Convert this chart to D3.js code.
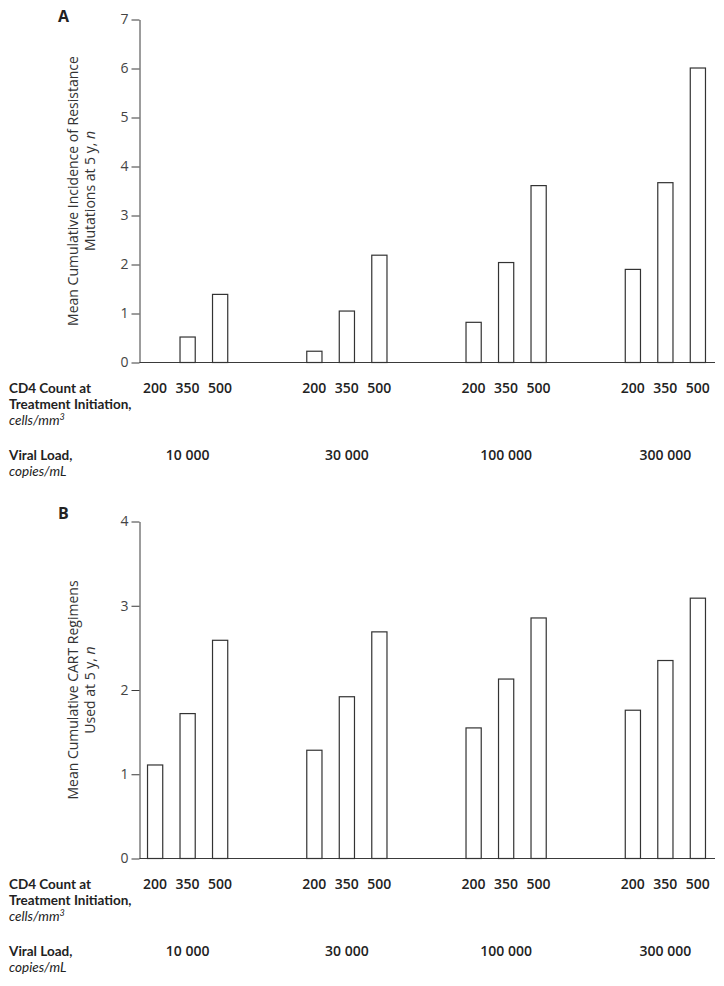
<!DOCTYPE html>
<html>
<head>
<meta charset="utf-8">
<script src="https://cdn.jsdelivr.net/npm/d3@7"></script>
<style>
  html, body { margin: 0; padding: 0; background: #fff; }
  svg { display: block; font-family: "Open Sans", "Noto Sans", sans-serif; }
</style>
</head>
<body>
<svg id="chart" width="724" height="986"></svg>
<script>
// ---- Data ----
const viralLoads = ["10 000", "30 000", "100 000", "300 000"];
const cd4Counts = ["200", "350", "500"];
// Panel A: mean cumulative incidence of resistance mutations at 5 y
const resistance10k  = [0, 0.52, 1.39];
const resistance30k  = [0.23, 1.05, 2.19];
const resistance100k = [0.82, 2.04, 3.61];
const resistance300k = [1.90, 3.67, 6.01];
// Panel B: mean cumulative cART regimens used at 5 y
const regimens10k  = [1.11, 1.72, 2.59];
const regimens30k  = [1.285, 1.92, 2.69];
const regimens100k = [1.55, 2.13, 2.855];
const regimens300k = [1.76, 2.35, 3.09];
const ticksA = [0, 1, 2, 3, 4, 5, 6, 7];
const ticksB = [0, 1, 2, 3, 4];

const panels = [
  {
    letter: "A",
    values: [resistance10k, resistance30k, resistance100k, resistance300k],
    ticks: ticksA,
    titleLines: [["Mean Cumulative Incidence of Resistance"], ["Mutations at 5 y, ", "n"]],
    top: 19.5, base: 362.5, dy: 0
  },
  {
    letter: "B",
    values: [regimens10k, regimens30k, regimens100k, regimens300k],
    ticks: ticksB,
    titleLines: [["Mean Cumulative CART Regimens"], ["Used at 5 y, ", "n"]],
    top: 521.5, base: 858.5, dy: 496
  }
];

const svg = d3.select("#chart");
const axisLeftX = 139.5, axisRightX = 715;

const xGroup = d3.scaleBand().domain(viralLoads).range([108, 745]).padding(0);
const xBar = d3.scaleBand().domain(cd4Counts).range([-48.75, 48.75])
  .paddingInner(0.532).paddingOuter(0.266);

const axisColor = "#3a3a3a";

panels.forEach(p => {
  const g = svg.append("g");
  const y = d3.scaleLinear().domain([0, d3.max(p.ticks)]).range([p.base, p.top]);

  // Panel letter
  g.append("text").attr("x", 58).attr("y", 21.5 + p.dy + (p.letter === "B" ? 1.5 : 0))
    .attr("font-size", 16).attr("font-weight", 700).attr("fill", "#222")
    .text(p.letter);

  // Y axis
  const yAxis = d3.axisLeft(y).tickValues(p.ticks).tickFormat(d3.format("d"))
    .tickSize(8).tickSizeOuter(0).tickPadding(3);
  const ya = g.append("g").attr("transform", `translate(${axisLeftX},0)`).call(yAxis);
  ya.select(".domain").attr("stroke", axisColor).attr("stroke-width", 1);
  ya.selectAll(".tick line").attr("stroke", axisColor).attr("stroke-width", 1);
  ya.selectAll(".tick text").attr("font-size", 14).attr("fill", "#444")
    .attr("font-family", "\"Open Sans\", sans-serif");

  // X baseline
  g.append("line").attr("x1", axisLeftX).attr("x2", axisRightX)
    .attr("y1", y(0)).attr("y2", y(0)).attr("stroke", axisColor).attr("stroke-width", 1);

  // Y title (two separate lines)
  const cy = (y(0) + y(d3.max(p.ticks))) / 2;
  p.titleLines.forEach((parts, i) => {
    const t = g.append("text")
      .attr("transform", `translate(${78 + i * 16.5},${cy}) rotate(-90)`)
      .attr("text-anchor", "middle").attr("font-size", 14).attr("fill", "#333");
    t.append("tspan").text(parts[0]);
    if (parts[1]) t.append("tspan").attr("font-style", "italic").text(parts[1]);
  });

  // Bars
  const flat = [];
  viralLoads.forEach((vl, gi) => {
    cd4Counts.forEach((c, ci) => flat.push({ vl, c, v: p.values[gi][ci] }));
  });
  const cx = d => xGroup(d.vl) + xGroup.bandwidth() / 2 + xBar(d.c);
  g.append("g").selectAll("rect").data(flat.filter(d => d.v > 0)).join("rect")
    .attr("x", cx)
    .attr("y", d => y(d.v))
    .attr("width", xBar.bandwidth())
    .attr("height", d => y(0) - y(d.v))
    .attr("fill", "#fff").attr("stroke", "#333").attr("stroke-width", 1.2);

  // CD4 tick labels
  g.append("g").selectAll("text").data(flat).join("text")
    .attr("x", d => cx(d) + xBar.bandwidth() / 2)
    .attr("y", 393 + p.dy)
    .attr("text-anchor", "middle").attr("font-size", 14).attr("font-weight", 600).attr("fill", "#222")
    .text(d => d.c);

  // Viral load labels
  g.append("g").selectAll("text").data(viralLoads).join("text")
    .attr("x", d => xGroup(d) + xGroup.bandwidth() / 2)
    .attr("y", 460 + p.dy)
    .attr("text-anchor", "middle").attr("font-size", 14).attr("font-weight", 600).attr("fill", "#222")
    .text(d => d);

  // Row labels, one text element per line (Lato: compact line box for tight leading)
  const rowText = (txt, yy, italic) => g.append("text").attr("x", 9).attr("y", yy)
    .attr("font-family", "Lato, \"Open Sans\", sans-serif")
    .attr("font-size", 13.5).attr("font-weight", italic ? 400 : 700)
    .attr("font-style", italic ? "italic" : "normal").attr("fill", "#222").text(txt);
  rowText("CD4 Count at", 393 + p.dy, false);
  rowText("Treatment Initiation,", 409 + p.dy, false);
  const cells = rowText("cells/mm", 425 + p.dy, true);
  cells.append("tspan").attr("dy", -5).attr("font-size", 9).text("3");
  rowText("Viral Load,", 460 + p.dy, false);
  rowText("copies/mL", 476 + p.dy, true);
});
</script>
</body>
</html>
